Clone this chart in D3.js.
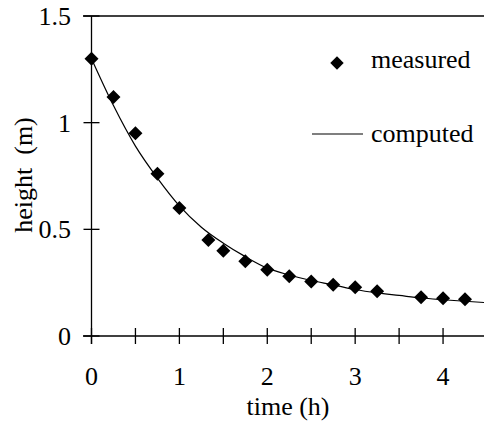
<!DOCTYPE html>
<html>
<head>
<meta charset="utf-8">
<script src="https://cdn.jsdelivr.net/npm/d3@7"></script>
<style>
body { margin: 0; background: #fff; }
</style>
</head>
<body>
<svg id="chart" width="484" height="426"></svg>
<script>
// measured points
var measTime = [0, 0.25, 0.5, 0.75, 1, 1.33, 1.5, 1.75, 2, 2.25, 2.5, 2.75, 3, 3.25, 3.75, 4, 4.25];
var measHeight = [1.3, 1.12, 0.95, 0.76, 0.6, 0.45, 0.4, 0.35, 0.31, 0.28, 0.255, 0.24, 0.228, 0.21, 0.182, 0.177, 0.172];

// computed curve
var compTime = [0, 0.25, 0.5, 0.75, 1, 1.25, 1.5, 1.75, 2, 2.25, 2.5, 2.75, 3, 3.25, 3.5, 3.75, 4, 4.25, 4.5];
var compHeight = [1.3, 1.08, 0.89, 0.74, 0.61, 0.51, 0.435, 0.372, 0.318, 0.286, 0.26, 0.24, 0.218, 0.202, 0.19, 0.178, 0.17, 0.163, 0.156];

var xTicks = [0, 0.5, 1, 1.5, 2, 2.5, 3, 3.5, 4, 4.5];
var xLabels = [0, 1, 2, 3, 4];
var yTicks = [0, 0.5, 1, 1.5];

var FONT = "'Liberation Serif', 'Times New Roman', serif";
var FS = 26;

var svg = d3.select("#chart");

var x = d3.scaleLinear().domain([0, 4.5]).range([91.5, 487]);
var y = d3.scaleLinear().domain([0, 1.5]).range([336, 16]);

var g = svg.append("g").attr("stroke", "#000").attr("stroke-width", 1.3);

// top border and axes
g.append("line").attr("x1", 83).attr("x2", 484).attr("y1", y(1.5)).attr("y2", y(1.5));
g.append("line").attr("x1", 83).attr("x2", 484).attr("y1", y(0)).attr("y2", y(0));
g.append("line").attr("x1", x(0)).attr("x2", x(0)).attr("y1", y(1.5)).attr("y2", y(0) + 8);

g.selectAll("line.xt").data(xTicks).enter().append("line")
    .attr("class", "xt")
    .attr("x1", function(d) { return x(d); })
    .attr("x2", function(d) { return x(d); })
    .attr("y1", y(0) - 8).attr("y2", y(0) + 8);

g.selectAll("line.yt").data(yTicks).enter().append("line")
    .attr("class", "yt")
    .attr("x1", x(0) - 8).attr("x2", x(0) + 8)
    .attr("y1", function(d) { return y(d); })
    .attr("y2", function(d) { return y(d); });

svg.selectAll("text.xl").data(xLabels).enter().append("text")
    .attr("class", "xl")
    .attr("x", function(d) { return x(d); })
    .attr("y", 385)
    .attr("text-anchor", "middle")
    .style("font-family", FONT)
    .attr("font-size", FS)
    .text(function(d) { return d; });

svg.selectAll("text.yl").data(yTicks).enter().append("text")
    .attr("class", "yl")
    .attr("x", 71)
    .attr("y", function(d) { return y(d) + 9; })
    .attr("text-anchor", "end")
    .style("font-family", FONT)
    .attr("font-size", FS)
    .text(function(d) { return d; });

svg.append("text")
    .attr("x", 288).attr("y", 415)
    .attr("text-anchor", "middle")
    .style("font-family", FONT)
    .attr("font-size", FS)
    .text("time (h)");

svg.append("text")
    .attr("transform", "translate(32,175) rotate(-90)")
    .attr("text-anchor", "middle")
    .style("font-family", FONT)
    .attr("font-size", FS)
    .style("white-space", "pre")
    .text("height  (m)");

// computed line
var compData = compTime.map(function(t, i) { return [t, compHeight[i]]; });
var line = d3.line()
    .x(function(d) { return x(d[0]); })
    .y(function(d) { return y(d[1]); })
    .curve(d3.curveMonotoneX);

svg.append("path")
    .datum(compData)
    .attr("d", line)
    .attr("fill", "none")
    .attr("stroke", "#000")
    .attr("stroke-width", 1.2);

// measured diamonds
var diamond = d3.symbol().type(d3.symbolSquare).size(98);
var measData = measTime.map(function(t, i) { return [t, measHeight[i]]; });
svg.selectAll("path.pt").data(measData).enter().append("path")
    .attr("class", "pt")
    .attr("d", diamond)
    .attr("fill", "#000")
    .attr("transform", function(d) { return "translate(" + x(d[0]) + "," + y(d[1]) + ") rotate(45)"; });

// legend
svg.append("path")
    .attr("d", d3.symbol().type(d3.symbolSquare).size(90))
    .attr("fill", "#000")
    .attr("transform", "translate(337,63) rotate(45)");
svg.append("text").attr("x", 371).attr("y", 68)
    .style("font-family", FONT).attr("font-size", FS).text("measured");
svg.append("line")
    .attr("x1", 312).attr("x2", 363).attr("y1", 134).attr("y2", 134)
    .attr("stroke", "#000").attr("stroke-width", 1.2);
svg.append("text").attr("x", 371).attr("y", 142)
    .style("font-family", FONT).attr("font-size", FS).text("computed");
</script>
</body>
</html>
